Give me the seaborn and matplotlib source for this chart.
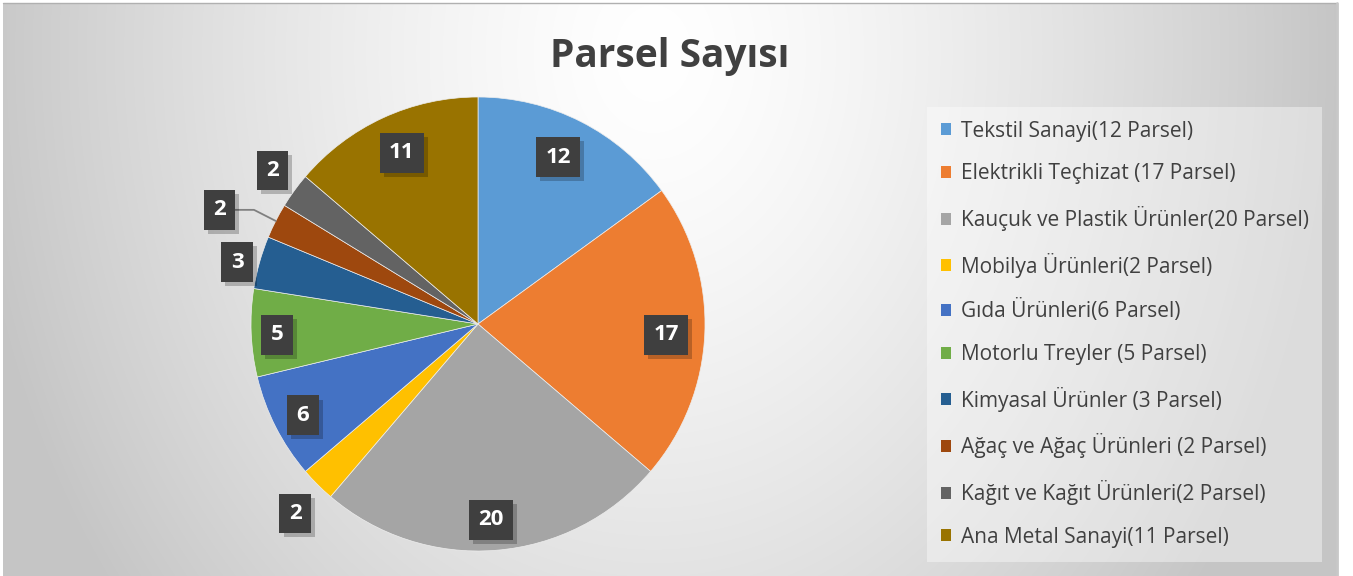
import numpy as np
import matplotlib
matplotlib.use("Agg")
import matplotlib.pyplot as plt
import matplotlib.patheffects as pe
from matplotlib.patches import Patch
import seaborn as sns

# ---- data ----
categories = ["Tekstil Sanayi(12 Parsel)", "Elektrikli Teçhizat (17 Parsel)",
              "Kauçuk ve Plastik Ürünler(20 Parsel)", "Mobilya Ürünleri(2 Parsel)",
              "Gıda Ürünleri(6 Parsel)", "Motorlu Treyler (5 Parsel)",
              "Kimyasal Ürünler (3 Parsel)", "Ağaç ve Ağaç Ürünleri (2 Parsel)",
              "Kağıt ve Kağıt Ürünleri(2 Parsel)", "Ana Metal Sanayi(11 Parsel)"]
values = [12, 17, 20, 2, 6, 5, 3, 2, 2, 11]
title = "Parsel Sayısı"

# ---- style ----
colors = ["#5B9BD5", "#ED7D31", "#A5A5A5", "#FFC000", "#4472C4",
          "#70AD47", "#255E91", "#9E480E", "#636363", "#997300"]
label_dist = [0.815, 0.83, 0.865, 1.16, 0.87, 0.887, 1.096, 1.246, 1.13, 0.825]
label_dtheta = [1.4, -1.0, -0.7, 1.0, 0.5, 0.85, 1.35, 3.2, -0.8, -0.75]
leader = [False, False, False, False, False, False, False, True, False, False]

sns.set_theme(style="white")
plt.rcParams["font.family"] = ["Open Sans", "DejaVu Sans"]

W, H = 1353, 576
fig = plt.figure(figsize=(W / 100, H / 100), dpi=100)
fig.patch.set_facecolor("white")

# background gradient panel
bg = fig.add_axes([3 / W, 0, (1337 - 3) / W, 573 / H])
bg.set_axis_off()
yy, xx = np.mgrid[0:573, 0:1334]
cx, cy = 650, 50
d = np.sqrt(((xx - cx) / 690.0) ** 2 + ((yy - cy) / 880.0) ** 2)
val = 255 - 58 * np.clip(d, 0, 1) ** 1.4
img = np.dstack([val, val, val]) / 255.0
bg.imshow(img, aspect="auto", interpolation="bilinear")
fig.add_artist(plt.Line2D([3 / W, 1337 / W], [1 - 3 / H, 1 - 3 / H], color="#b0b0b0", lw=1))
fig.add_artist(plt.Line2D([1337 / W, 1337 / W], [0, 1 - 3 / H], color="#c8c8c8", lw=2))

# pie axes
cxp, cyp, r = 478, 324, 227
ax = fig.add_axes([(cxp - r) / W, (H - cyp - r) / H, 2 * r / W, 2 * r / H])
ax.set_axis_off()
wedges, _ = ax.pie(values, colors=sns.color_palette(colors), startangle=90,
                   counterclock=False, radius=1.0,
                   wedgeprops=dict(linewidth=0.5, edgecolor="#eeeeee"))
ax.set_xlim(-1, 1)
ax.set_ylim(-1, 1)

for i, w in enumerate(wedges):
    mid0 = np.deg2rad((w.theta1 + w.theta2) / 2)
    mid = np.deg2rad((w.theta1 + w.theta2) / 2 + label_dtheta[i])
    pos = (label_dist[i] * np.cos(mid), label_dist[i] * np.sin(mid))
    bbox = dict(boxstyle="square,pad=0.42", fc="#3f3f3f", ec="none", lw=0)
    if leader[i]:
        t = ax.annotate(str(values[i]), xy=(np.cos(mid0), np.sin(mid0)),
                        xytext=pos, ha="center", va="center",
                        fontsize=16, fontweight="bold", color="white",
                        bbox=bbox,
                        arrowprops=dict(arrowstyle="-", color="#808080", lw=1.3,
                                        shrinkA=0, shrinkB=0,
                                        connectionstyle="angle,angleA=0,angleB=-27,rad=0"))
    else:
        t = ax.text(pos[0], pos[1], str(values[i]), ha="center", va="center",
                    fontsize=16, fontweight="bold", color="white", bbox=bbox)
    t.get_bbox_patch().set_path_effects(
        [pe.SimplePatchShadow(offset=(3, -3), shadow_rgbFace="black", alpha=0.22),
         pe.Normal()])

fig.text(670 / W, 1 - 57 / H, title, ha="center", va="center",
         fontsize=28, fontweight="bold", color="#404040")

handles = [Patch(facecolor=c, edgecolor="none") for c in colors]
leg = fig.legend(handles, categories, loc="upper left",
                 bbox_to_anchor=(927 / W, 1 - 107 / H), borderaxespad=0,
                 fontsize=15, frameon=True, fancybox=False, framealpha=0.4,
                 facecolor="white", edgecolor="none",
                 handlelength=0.5, handleheight=0.5, handletextpad=0.45,
                 labelspacing=1.04, borderpad=0.66, labelcolor="#404040")

fig.savefig("out.png", dpi=100)
